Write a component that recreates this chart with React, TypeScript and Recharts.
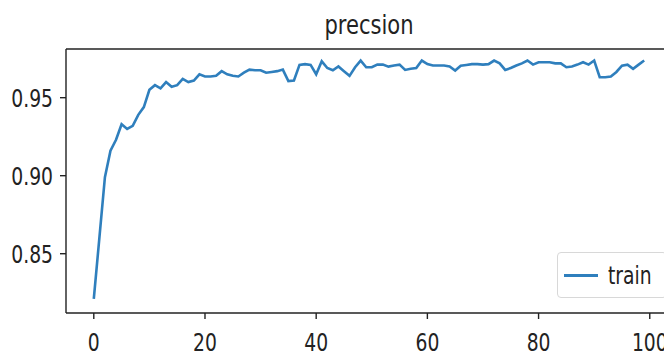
import React from "react";
import { LineChart, Line, XAxis, YAxis, ReferenceLine } from "recharts";

const epochs = Array.from({ length: 100 }, (_, i) => i);

const precision = [
  0.821, 0.86, 0.899, 0.916, 0.923, 0.933, 0.93, 0.932, 0.939, 0.944,
  0.955, 0.958, 0.956, 0.96, 0.957, 0.958, 0.962, 0.96, 0.961, 0.965,
  0.9636, 0.9636, 0.964, 0.967, 0.965, 0.964, 0.9636, 0.966, 0.968, 0.9676,
  0.9676, 0.966, 0.9665, 0.967, 0.968, 0.9606, 0.961, 0.971, 0.9715, 0.971,
  0.965, 0.9733, 0.969, 0.9676, 0.97, 0.967, 0.964, 0.9695, 0.9738, 0.9695,
  0.9695, 0.9712, 0.9712, 0.9699, 0.9706, 0.9712, 0.9678, 0.9685, 0.969, 0.9738,
  0.9715, 0.9706, 0.9706, 0.9706, 0.97, 0.9674, 0.9705, 0.971, 0.9715, 0.9715,
  0.9712, 0.9715, 0.9738, 0.972, 0.9678, 0.969, 0.9706, 0.972, 0.9738, 0.9712,
  0.9727, 0.9727, 0.9727, 0.972, 0.972, 0.9695, 0.97, 0.9712, 0.9727, 0.9712,
  0.9738, 0.9631, 0.9631, 0.9636, 0.9665, 0.9705, 0.9712, 0.9685, 0.9712, 0.9738,
];

const xTicks = [0, 20, 40, 60, 80, 100];
const yTicks = [0.85, 0.9, 0.95];
const yMin = 0.812;
const yMax = 0.9812;

const data = epochs.map((epoch, i) => ({ epoch, train: precision[i] }));

const BLUE = "#2f7fbd";
const FONT = "DejaVu Sans";

const XTick = ({ x, y, payload }: any) => (
  <text
    transform={`translate(${x},${y + 21}) scale(0.75,1)`}
    textAnchor="middle"
    dominantBaseline="central"
    fontSize={25}
    fontFamily={FONT}
    fill="#222"
  >
    {payload.value}
  </text>
);

const YTick = ({ x, y, payload }: any) => (
  <text
    transform={`translate(${x - 5},${y}) scale(0.75,1)`}
    textAnchor="end"
    dominantBaseline="central"
    fontSize={25}
    fontFamily={FONT}
    fill="#222"
  >
    {payload.value.toFixed(2)}
  </text>
);

export default function App() {
  return (
    <div style={{ position: "absolute", left: 0, top: 0, width: 664, height: 359, overflow: "hidden", background: "#fff" }}>
      <svg style={{ position: "absolute", left: 0, top: 0 }} width={664} height={50}>
        <text
          transform="translate(369,34) scale(0.78,1)"
          textAnchor="middle"
          fontSize={27}
          fontFamily={FONT}
          fill="#222"
        >
          precsion
        </text>
      </svg>
      <LineChart width={680} height={359} data={data} margin={{ top: 49, right: 8, bottom: 0, left: 0 }}>
        <XAxis
          dataKey="epoch"
          type="number"
          domain={[-5, 104]}
          ticks={xTicks}
          height={46}
          stroke="#222"
          strokeWidth={1.4}
          tickSize={6}
          tick={<XTick />}
          allowDataOverflow
        />
        <YAxis
          type="number"
          domain={[yMin, yMax]}
          ticks={yTicks}
          width={66}
          stroke="#222"
          strokeWidth={1.4}
          tickSize={6}
          tick={<YTick />}
          allowDataOverflow
        />
        <ReferenceLine y={yMax} stroke="#222" strokeWidth={1.4} ifOverflow="visible" />
        <Line
          type="linear"
          dataKey="train"
          stroke={BLUE}
          strokeWidth={2.6}
          dot={false}
          isAnimationActive={false}
        />
      </LineChart>
      <div
        style={{
          position: "absolute",
          left: 557,
          top: 252,
          width: 110,
          height: 46,
          border: "1px solid #d8d8d8",
          borderRadius: 4,
          background: "#fff",
          display: "flex",
          alignItems: "center",
          boxSizing: "border-box",
          paddingLeft: 6,
        }}
      >
        <div style={{ width: 38, height: 3, background: BLUE }} />
        <span
          style={{
            fontFamily: FONT,
            fontSize: 25,
            color: "#222",
            marginLeft: 10,
            display: "inline-block",
            transform: "scale(0.75,1)",
            transformOrigin: "left center",
          }}
        >
          train
        </span>
      </div>
    </div>
  );
}
